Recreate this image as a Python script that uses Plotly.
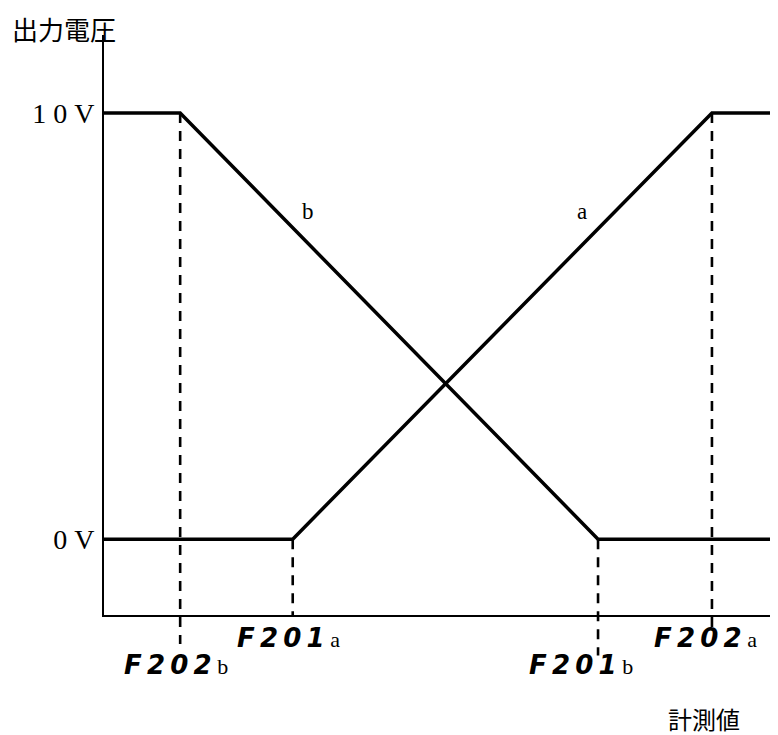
import plotly.graph_objects as go

# breakpoints on measurement axis (arbitrary units 0..100)
x_max = 100
F202b = 11.3
F201a = 28.0
F201b = 73.3
F202a = 90.2

# output voltage levels
v_low = 0
v_high = 10
y_range = [-1.78, 11.83]

a_x = [0, F201a, F202a, x_max]
a_y = [v_low, v_low, v_high, v_high]
b_x = [0, F202b, F201b, x_max]
b_y = [v_high, v_high, v_low, v_low]

tick_vals = [0, 10]
tick_text = ["0\u00a0V", "1\u00a00\u00a0V"]

def paper_y(v):
    return (v - y_range[0]) / (y_range[1] - y_range[0])

fig = go.Figure()
fig.add_trace(go.Scatter(x=a_x, y=a_y, mode="lines", line=dict(color="black", width=3.5), showlegend=False))
fig.add_trace(go.Scatter(x=b_x, y=b_y, mode="lines", line=dict(color="black", width=3.5), showlegend=False))

# dashed guide lines: (x, top value, bottom paper y)
guides = [(F202b, v_high, -0.05), (F201a, v_low, 0.0), (F201b, v_low, -0.07), (F202a, v_high, -0.024)]
for gx, gv, gb in guides:
    fig.add_shape(type="line", xref="x", yref="paper", x0=gx, x1=gx, y0=paper_y(gv), y1=gb,
                  line=dict(color="black", width=2.6, dash="10px,8px"))

serif = "Liberation Serif, serif"
segfont = "DejaVu Sans, sans-serif"
jp = "Noto Sans CJK JP, sans-serif"

def code_label(x, py, code, suffix, xs):
    spaced = "\u2009".join(code)
    fig.add_annotation(x=x, y=py, xref="x", yref="paper", xshift=xs, showarrow=False,
                       text="<b><i>" + spaced + "</i></b><span style='font-family:Liberation Serif;font-size:22px'>\u00a0" + suffix + "</span>",
                       font=dict(family=segfont, size=26, color="black"), yanchor="middle", xanchor="center")

code_label(F201a, -0.0397, "F201", "a", -4)
code_label(F202b, -0.0862, "F202", "b", -4)
code_label(F201b, -0.0862, "F201", "b", -17)
code_label(F202a, -0.0397, "F202", "a", -6)

fig.add_annotation(x=30.3, y=7.68, xref="x", yref="y", text="b", showarrow=False,
                   font=dict(family=serif, size=23, color="black"))
fig.add_annotation(x=70.9, y=7.68, xref="x", yref="y", text="a", showarrow=False,
                   font=dict(family=serif, size=23, color="black"))

fig.add_annotation(x=-104/674, y=1.0 + 27/580, xref="paper", yref="paper", xanchor="left", yanchor="top",
                   xshift=10, text="出力電圧", showarrow=False,
                   font=dict(family=jp, size=26, color="black"))
fig.add_annotation(x=1.0, y=-0.178, xref="paper", yref="paper", xanchor="right", yanchor="middle",
                   xshift=-36, text="計測値", showarrow=False,
                   font=dict(family=jp, size=24, color="black"))

fig.update_xaxes(range=[0, x_max], showgrid=False, zeroline=False, showticklabels=False, ticks="",
                 showline=True, linecolor="black", linewidth=2)
fig.update_yaxes(range=y_range, showgrid=False, zeroline=False, tickvals=tick_vals, ticktext=tick_text,
                 ticks="", showline=True, linecolor="black", linewidth=2,
                 tickfont=dict(family=serif, size=28, color="black"), ticklabelstandoff=2)

# the page body adds an 8px offset, so the figure is 8px smaller to land on the same pixels
fig.update_layout(width=770, height=727, margin=dict(l=96, r=0, t=27, b=120),
                  plot_bgcolor="white", paper_bgcolor="white")
fig.write_html("out.html")
